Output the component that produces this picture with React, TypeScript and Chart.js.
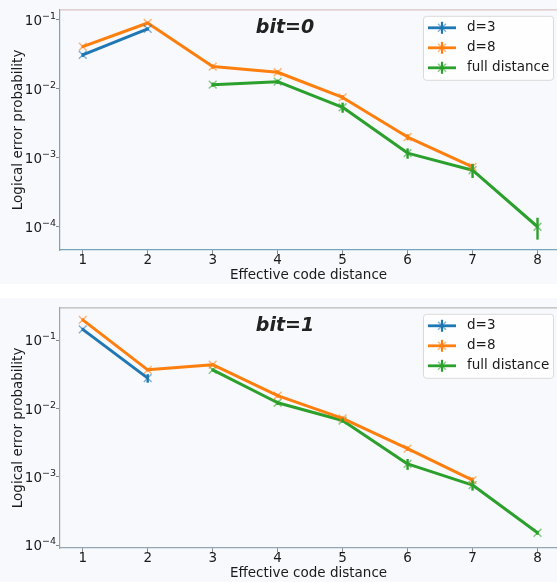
import React, { useEffect, useRef } from "react";
import { Chart, registerables } from "chart.js";

Chart.register(...registerables);

const distances = [1, 2, 3, 4, 5, 6, 7, 8];
const yTickValues = [1e-1, 1e-2, 1e-3, 1e-4];
const yTickBase = "10";
const yTickExponents = ["−1", "−2", "−3", "−4"];
const seriesNames = ["d=3", "d=8", "full distance"];
const seriesColors = ["#1f77b4", "#ff7f0e", "#2ca02c"];
const markerColors = ["rgba(31,119,180,0.55)", "rgba(255,127,14,0.55)", "rgba(44,160,44,0.55)"];

// bit = 0
const bit0D3 = [0.031, 0.074, null, null, null, null, null, null];
const bit0D3Err = [0.002, 0.004, null, null, null, null, null, null];
const bit0D8 = [0.041, 0.09, 0.021, 0.0174, 0.0075, 0.002, 0.00074, null];
const bit0D8Err = [0.002, 0.004, 0.0015, 0.0012, 0.0006, 0.0002, 0.00008, null];
const bit0Full = [null, null, 0.0115, 0.0127, 0.0054, 0.00117, 0.00066, 0.0001];
const bit0FullErr = [null, null, 0.0008, 0.0009, 0.0009, 0.0002, 0.00015, 0.000035];

// bit = 1
const bit1D3 = [0.145, 0.028, null, null, null, null, null, null];
const bit1D3Err = [0.008, 0.004, null, null, null, null, null, null];
const bit1D8 = [0.2, 0.037, 0.044, 0.0155, 0.0072, 0.0026, 0.0009, null];
const bit1D8Err = [0.01, 0.002, 0.002, 0.001, 0.0005, 0.0002, 0.00008, null];
const bit1Full = [null, null, 0.037, 0.0122, 0.0067, 0.00155, 0.00076, 0.000152];
const bit1FullErr = [null, null, 0.002, 0.0009, 0.0005, 0.00028, 0.00013, 0.00001];

type Vals = (number | null)[];

function toPoints(vals: Vals, errs: Vals) {
  const pts: any[] = [];
  vals.forEach((v, i) => {
    if (v !== null) pts.push({ x: distances[i], y: v, e: errs[i] ?? 0 });
  });
  return pts;
}

const FONT = "'DejaVu Sans'";

const bgPlugin = {
  id: "bg",
  beforeDraw(chart: any) {
    const { ctx, width, height } = chart;
    ctx.save();
    ctx.fillStyle = "#f8f9fc";
    ctx.fillRect(0, 0, width, height);
    ctx.restore();
  },
};

function makeDecor(opts: any) {
  return {
    id: "decor",
    afterDatasetsDraw(chart: any) {
      const { ctx, chartArea, scales } = chart;
      const ys = scales.y;
      ctx.save();
      // error bars
      chart.data.datasets.forEach((ds: any, di: number) => {
        const meta = chart.getDatasetMeta(di);
        ctx.strokeStyle = seriesColors[di];
        ctx.lineWidth = 2.4;
        ds.data.forEach((p: any, i: number) => {
          const el = meta.data[i];
          if (!el || !p.e) return;
          const top = ys.getPixelForValue(p.y + p.e);
          const bot = ys.getPixelForValue(Math.max(p.y - p.e, 1e-9));
          ctx.beginPath();
          ctx.moveTo(el.x, top);
          ctx.lineTo(el.x, bot);
          ctx.stroke();
        });
      });
      // top border
      ctx.strokeStyle = opts.topBorder;
      ctx.lineWidth = 1.2;
      ctx.beginPath();
      ctx.moveTo(chartArea.left, chartArea.top);
      ctx.lineTo(chartArea.right, chartArea.top);
      ctx.stroke();
      // y tick labels with superscript exponents
      yTickValues.forEach((v, i) => {
        const y = ys.getPixelForValue(v);
        ctx.fillStyle = "#1a1a1a";
        ctx.textBaseline = "alphabetic";
        ctx.textAlign = "right";
        ctx.font = `9.5px ${FONT}`;
        const ex = yTickExponents[i];
        const exW = ctx.measureText(ex).width;
        ctx.fillText(ex, 56, y - 1);
        ctx.font = `13.5px ${FONT}`;
        ctx.fillText(yTickBase, 56 - exW, y + 5);
      });
      // title
      ctx.fillStyle = "#222";
      ctx.font = `italic bold 19px ${FONT}`;
      ctx.textAlign = "center";
      ctx.textBaseline = "middle";
      ctx.fillText(opts.title, chartArea.left + 225, chartArea.top + 18);
      // legend
      const lx = 423, ly = chartArea.top + 6, lw = 130, lh = 64;
      ctx.fillStyle = "rgba(255,255,255,0.8)";
      ctx.strokeStyle = "#dadada";
      ctx.lineWidth = 1;
      ctx.beginPath();
      ctx.roundRect(lx + 0.5, ly + 0.5, lw, lh, 3);
      ctx.fill();
      ctx.stroke();
      seriesNames.forEach((name, i) => {
        const ry = ly + 12 + i * 20;
        ctx.strokeStyle = seriesColors[i];
        ctx.lineWidth = 2.8;
        ctx.beginPath();
        ctx.moveTo(428, ry);
        ctx.lineTo(456, ry);
        ctx.stroke();
        ctx.lineWidth = 2.2;
        ctx.beginPath();
        ctx.moveTo(442, ry - 6);
        ctx.lineTo(442, ry + 6);
        ctx.stroke();
        ctx.strokeStyle = markerColors[i];
        ctx.lineWidth = 1.5;
        ctx.beginPath();
        ctx.moveTo(438, ry - 4);
        ctx.lineTo(446, ry + 4);
        ctx.moveTo(446, ry - 4);
        ctx.lineTo(438, ry + 4);
        ctx.stroke();
        ctx.fillStyle = "#1a1a1a";
        ctx.font = `13.5px ${FONT}`;
        ctx.textAlign = "left";
        ctx.textBaseline = "middle";
        ctx.fillText(name, 467, ry);
      });
      ctx.restore();
    },
  };
}

function Panel(props: {
  title: string;
  d3: Vals; d3Err: Vals; d8: Vals; d8Err: Vals; full: Vals; fullErr: Vals;
  yMin: number; yMax: number; padTop: number;
  axisColor: string; xAxisColor: string; topBorder: string;
}) {
  const ref = useRef<HTMLCanvasElement>(null);
  useEffect(() => {
    const series = [
      toPoints(props.d3, props.d3Err),
      toPoints(props.d8, props.d8Err),
      toPoints(props.full, props.fullErr),
    ];
    const chart = new Chart(ref.current as HTMLCanvasElement, {
      type: "line",
      data: {
        datasets: series.map((pts, i) => ({
          label: seriesNames[i],
          data: pts,
          borderColor: seriesColors[i],
          backgroundColor: seriesColors[i],
          borderWidth: 3,
          borderJoinStyle: "round" as const,
          pointStyle: "crossRot" as const,
          pointRadius: 5.5,
          pointBorderWidth: 1.5,
          pointBorderColor: markerColors[i],
          fill: false,
          tension: 0,
        })),
      },
      options: {
        responsive: false,
        animation: false,
        layout: { autoPadding: false, padding: { top: props.padTop, left: 0, right: 0, bottom: 0 } },
        plugins: { legend: { display: false }, tooltip: { enabled: false } },
        scales: {
          x: {
            type: "linear",
            min: 0.65,
            max: 8.3,
            afterBuildTicks: (s: any) => {
              s.ticks = distances.map((v) => ({ value: v }));
            },
            afterFit: (s: any) => {
              s.height = 34;
              s.paddingLeft = 0;
              s.paddingRight = 0;
            },
            grid: { drawOnChartArea: false, drawTicks: true, tickLength: 4, color: "#888" },
            border: { color: props.xAxisColor, width: 1.2 },
            ticks: {
              color: "#1a1a1a",
              font: { family: FONT, size: 13.5 },
              padding: -2,
              callback: (v: any) => String(v),
            },
            title: {
              display: true,
              text: "Effective code distance",
              color: "#1a1a1a",
              font: { family: FONT, size: 13.5 },
              padding: { top: 0, bottom: 0 },
            },
          },
          y: {
            type: "logarithmic",
            min: props.yMin,
            max: props.yMax,
            afterBuildTicks: (s: any) => {
              s.ticks = yTickValues.map((v) => ({ value: v }));
            },
            afterFit: (s: any) => {
              s.width = 60;
            },
            grid: { drawOnChartArea: false, drawTicks: true, tickLength: 4, color: "#888" },
            border: { color: props.axisColor, width: 1.2 },
            ticks: {
              color: "#1a1a1a",
              font: { family: FONT, size: 13 },
              padding: 2,
              callback: () => "",
            },
            title: {
              display: true,
              text: "Logical error probability",
              color: "#1a1a1a",
              font: { family: FONT, size: 13.5 },
              padding: { top: 10, bottom: 0 },
            },
          },
        },
      } as any,
      plugins: [bgPlugin, makeDecor({ title: props.title, topBorder: props.topBorder })],
    });
    return () => chart.destroy();
  }, []);
  return <canvas ref={ref} width={557} height={284} style={{ display: "block" }} />;
}

export default function App() {
  return (
    <div style={{ position: "absolute", left: 0, top: 0, width: 557, height: 582, background: "#ffffff" }}>
      <div style={{ position: "absolute", left: 0, top: 0 }}>
        <Panel
          title="bit=0"
          d3={bit0D3} d3Err={bit0D3Err}
          d8={bit0D8} d8Err={bit0D8Err}
          full={bit0Full} fullErr={bit0FullErr}
          yMin={4.6e-5} yMax={0.14} padTop={9}
          axisColor="#72a6b8" xAxisColor="#72a6b8" topBorder="#dcc2c2"
        />
      </div>
      <div style={{ position: "absolute", left: 0, top: 298 }}>
        <Panel
          title="bit=1"
          d3={bit1D3} d3Err={bit1D3Err}
          d8={bit1D8} d8Err={bit1D8Err}
          full={bit1Full} fullErr={bit1FullErr}
          yMin={9.1e-5} yMax={0.3} padTop={6}
          axisColor="#a3a3a3" xAxisColor="#93a6b4" topBorder="#b8b8b8"
        />
      </div>
    </div>
  );
}
